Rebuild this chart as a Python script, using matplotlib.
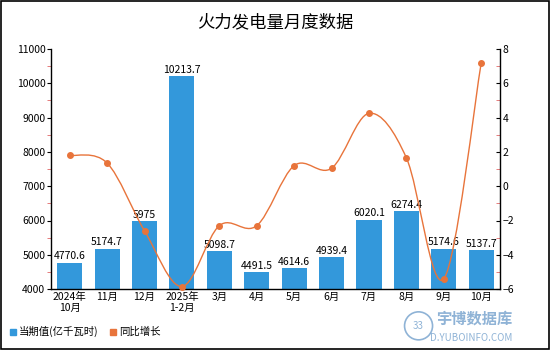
import matplotlib
matplotlib.use("Agg")
import matplotlib.pyplot as plt
import numpy as np
from matplotlib.path import Path
from matplotlib.patches import PathPatch, Ellipse
from matplotlib.ticker import MultipleLocator

plt.rcParams['font.family'] = ['Noto Sans CJK SC', 'DejaVu Sans']

categories = ["2024年\n10月", "11月", "12月", "2025年\n1-2月", "3月", "4月", "5月",
              "6月", "7月", "8月", "9月", "10月"]
values = [4770.6, 5174.7, 5975, 10213.7, 5098.7, 4491.5, 4614.6, 4939.4, 6020.1, 6274.4, 5174.6, 5137.7]
value_labels = ["4770.6", "5174.7", "5975", "10213.7", "5098.7", "4491.5", "4614.6",
                "4939.4", "6020.1", "6274.4", "5174.6", "5137.7"]
growth = [1.8, 1.35, -2.6, -5.85, -2.3, -2.3, 1.2, 1.05, 4.25, 1.65, -5.4, 7.2]

bar_color = "#3398DB"
line_color = "#E8743B"
wm_color = "#8FB3D6"

fig = plt.figure(figsize=(5.5, 3.5), dpi=100)
fig.patches.append(plt.Rectangle((0.001, 0.002), 0.997, 0.995, transform=fig.transFigure,
                                 fill=False, edgecolor="black", linewidth=1.2))

ax = fig.add_axes([0.0927, 0.174, 0.8163, 0.686])
x = np.arange(len(categories))
ax.bar(x, values, width=0.67, color=bar_color, zorder=2)
ax.set_ylim(4000, 11000)
ax.set_xlim(-0.5, len(categories) - 0.5)
ax.yaxis.set_major_locator(MultipleLocator(1000))
ax.yaxis.set_minor_locator(MultipleLocator(500))
ax.set_xticks(x)
ax.set_xticklabels(categories, fontsize=7.5, linespacing=1.1)
ax.tick_params(axis='x', length=0, pad=2)
ax.tick_params(axis='y', which='major', length=3, labelsize=7.5, pad=1, color='black')
ax.tick_params(axis='y', which='minor', length=3, color='#E06666')
for s in ['top', 'right']:
    ax.spines[s].set_visible(False)
ax.spines['left'].set_linewidth(1.0)
ax.spines['bottom'].set_linewidth(1.0)

for xi, v, lab in zip(x, values, value_labels):
    ax.text(xi, v + 40, lab, ha='center', va='bottom', fontsize=7.5, zorder=5)

ax2 = ax.twinx()
ax2.set_ylim(-6, 8)
ax2.yaxis.set_major_locator(MultipleLocator(2))
ax2.yaxis.set_minor_locator(MultipleLocator(1))
ax2.tick_params(axis='y', which='major', direction='in', length=3, labelsize=7.5, pad=2)
ax2.tick_params(axis='y', which='minor', direction='in', length=3, color='#E06666')
for s in ['top', 'left', 'bottom']:
    ax2.spines[s].set_visible(False)
ax2.spines['right'].set_linewidth(1.0)

# smooth curve through growth points (Catmull-Rom as Bezier)
pts = np.column_stack([x, growth]).astype(float)
n = len(pts)
verts = [tuple(pts[0])]
codes = [Path.MOVETO]
for i in range(n - 1):
    p0 = pts[i - 1] if i > 0 else pts[i]
    p1 = pts[i]
    p2 = pts[i + 1]
    p3 = pts[i + 2] if i + 2 < n else pts[i + 1]
    c1 = p1 + (p2 - p0) / 6
    c2 = p2 - (p3 - p1) / 6
    verts += [tuple(c1), tuple(c2), tuple(p2)]
    codes += [Path.CURVE4] * 3
patch = PathPatch(Path(verts, codes), facecolor='none', edgecolor=line_color,
                  linewidth=1.0, zorder=3, clip_on=False)
ax2.add_patch(patch)
ax2.plot(x, growth, 'o', color=line_color, markersize=4, zorder=4, clip_on=False)

fig.text(0.5, 0.935, "火力发电量月度数据", ha='center', va='center', fontsize=12.5)

# legend
fig.patches.append(plt.Rectangle((0.018, 0.043), 0.011, 0.018, transform=fig.transFigure,
                                 color=bar_color))
fig.text(0.034, 0.052, "当期值(亿千瓦时)", fontsize=7.5, va='center')
fig.patches.append(plt.Rectangle((0.2, 0.043), 0.011, 0.018, transform=fig.transFigure,
                                 color=line_color))
fig.text(0.216, 0.052, "同比增长", fontsize=7.5, va='center')

# watermark
fig.text(0.932, 0.091, "宇博数据库", fontsize=11, color=wm_color, ha='right', va='center',
         fontweight='bold')
fig.text(0.932, 0.034, "D.YUBOINFO.COM", fontsize=7, color=wm_color, ha='right', va='center')
fig.patches.append(Ellipse((0.761, 0.069), 28 / 550, 28 / 350, transform=fig.transFigure,
                           fill=False, edgecolor=wm_color, linewidth=1.2))
fig.text(0.761, 0.069, "33", fontsize=7, color=wm_color, ha='center', va='center',
         style='italic')

fig.savefig("out.png", dpi=100)
